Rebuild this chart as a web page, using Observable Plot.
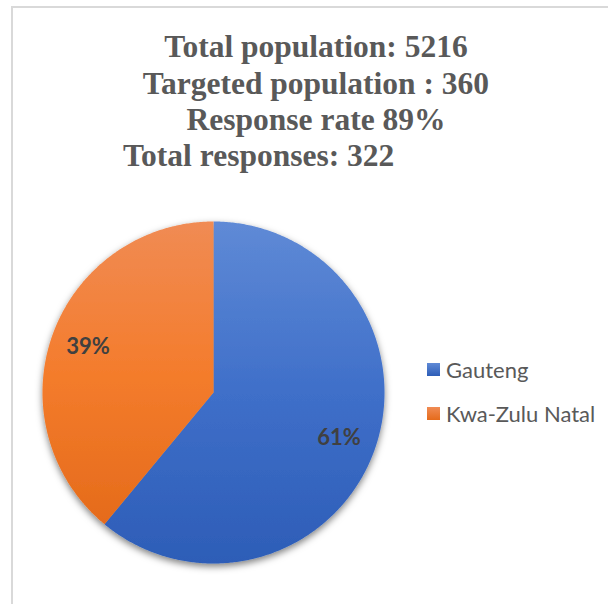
<!DOCTYPE html>
<html>
<head>
<meta charset="utf-8">
<script src="https://cdn.jsdelivr.net/npm/d3@7"></script>
<script src="https://cdn.jsdelivr.net/npm/@observablehq/plot@0.6"></script>
<style>
  html, body { margin: 0; padding: 0; background: #fff; }
  #fig { position: relative; width: 608px; height: 604px; overflow: hidden; font-family: Lato, "Open Sans", sans-serif; }
  #frame { position: absolute; left: 11px; top: 6px; width: 620px; height: 620px; border-top: 2px solid #d9d9d9; border-left: 2px solid #d9d9d9; box-sizing: border-box; }
  #title { position: relative; height: 190px; font-family: "Liberation Serif", "Times New Roman", serif; font-weight: bold; font-size: 31.5px; color: #595959; }
  #title div { position: absolute; white-space: nowrap; line-height: 36px; }
  #legend { position: absolute; left: 427px; top: 354px; font-size: 22px; color: #595959; }
  .row { display: flex; align-items: center; height: 30px; margin-bottom: 14px; }
  .sw { width: 13px; height: 13px; margin-right: 6px; }
  #chart { position: relative; }
</style>
</head>
<body>
<div id="fig">
  <div id="frame"></div>
  <div id="title"></div>
  <div id="chart"></div>
  <div id="legend"></div>
</div>
<script>
// ---- data ----
const titleLines = ["Total population: 5216", "Targeted population : 360", "Response rate 89%", "Total responses: 322"];
const categories = ["Gauteng", "Kwa-Zulu Natal"];
const shares = [61, 39];
const labels = ["61%", "39%"];

// ---- styles ----
const gradStops = [
  ["#5f8ad6", "#3f6fc9", "#2d5db7"],
  ["#f08b54", "#f47c2c", "#e56b1b"]
];

// title
const titleEl = document.getElementById("title");
const tops = [29, 65.5, 102, 138];
titleLines.forEach((t, i) => {
  const d = document.createElement("div");
  d.textContent = t;
  d.style.top = tops[i] + "px";
  if (i < 3) { d.style.left = "0px"; d.style.width = "632px"; d.style.textAlign = "center"; }
  else { d.style.left = "123px"; }
  titleEl.appendChild(d);
});

// pie geometry from data
const arcs = d3.pie().sort(null).value(d => d)(shares);
const pts = [];
arcs.forEach((s, i) => {
  const n = Math.ceil((s.endAngle - s.startAngle) / (Math.PI / 360));
  pts.push({cat: categories[i], x: 0, y: 0});
  for (let k = 0; k <= n; k++) {
    const a = s.startAngle + (s.endAngle - s.startAngle) * k / n;
    pts.push({cat: categories[i], x: Math.sin(a), y: Math.cos(a)});
  }
});
const labelData = arcs.map((s, i) => {
  const a = (s.startAngle + s.endAngle) / 2;
  return {label: labels[i], x: 0.78 * Math.sin(a), y: 0.78 * Math.cos(a)};
});

const plot = Plot.plot({
  width: 608,
  height: 414,
  margin: 0,
  x: {domain: [-1, 1], range: [42, 384], axis: null},
  y: {domain: [-1, 1], range: [373, 31], axis: null},
  style: {background: "transparent"},
  marks: [
    ...categories.map((c, i) => Plot.line(pts.filter(p => p.cat === c), {x: "x", y: "y", fill: "#888", stroke: "none", curve: "linear"})),
    Plot.text(labelData, {x: "x", y: "y", text: "label", fill: "#404040", fontSize: 22, fontWeight: "bold", fontFamily: "Lato"})
  ]
});

plot.insertAdjacentHTML("afterbegin", `<defs>
  ${gradStops.map((s, i) => `<linearGradient id="grad${i}" x1="0" y1="0" x2="0" y2="1">
     <stop offset="0" stop-color="${s[0]}"/><stop offset="0.5" stop-color="${s[1]}"/><stop offset="1" stop-color="${s[2]}"/></linearGradient>`).join("")}
  <filter id="shadow" x="-10%" y="-10%" width="120%" height="130%">
    <feDropShadow dx="0" dy="3" stdDeviation="3.5" flood-color="#000" flood-opacity="0.5"/>
  </filter></defs>`);
const lineGroups = plot.querySelectorAll('g[aria-label="line"]');
const wrap = document.createElementNS("http://www.w3.org/2000/svg", "g");
wrap.setAttribute("filter", "url(#shadow)");
lineGroups[0].parentNode.insertBefore(wrap, lineGroups[0]);
lineGroups.forEach((g, i) => {
  g.setAttribute("fill", `url(#grad${i})`);
  g.querySelectorAll("path").forEach(p => p.setAttribute("fill", `url(#grad${i})`));
  wrap.appendChild(g);
});
document.getElementById("chart").appendChild(plot);

// legend
const legend = document.getElementById("legend");
categories.forEach((c, i) => {
  const r = document.createElement("div");
  r.className = "row";
  const sw = document.createElement("div");
  sw.className = "sw";
  sw.style.background = `linear-gradient(${gradStops[i][0]}, ${gradStops[i][2]})`;
  const t = document.createElement("span");
  t.textContent = c;
  r.appendChild(sw); r.appendChild(t);
  legend.appendChild(r);
});
</script>
</body>
</html>
